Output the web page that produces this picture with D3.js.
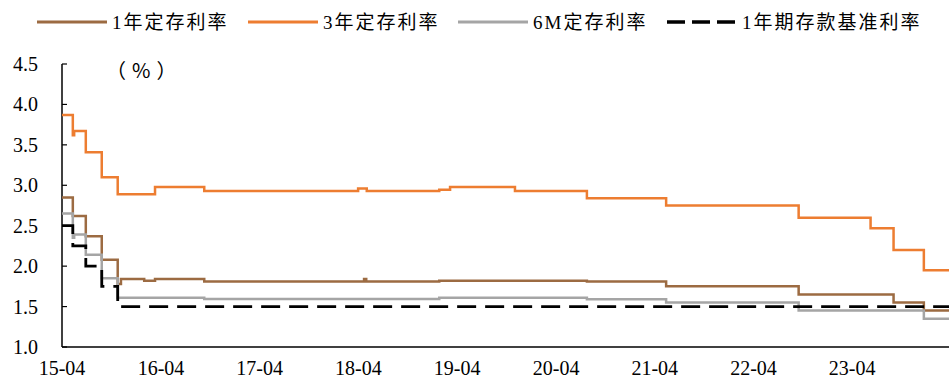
<!DOCTYPE html>
<html>
<head>
<meta charset="utf-8">
<script src="https://cdn.jsdelivr.net/npm/d3@7"></script>
<style>
  html, body { margin: 0; padding: 0; background: #fff; }
  svg { display: block; }
  .tick-label { font-family: "Liberation Serif", "Times New Roman", serif; font-size: 20px; fill: #000; }
  .legend-label { font-family: "Liberation Serif", "Noto Sans CJK SC", serif; font-size: 19px; fill: #000; letter-spacing: 2px; }
  .unit-label { font-family: "Noto Sans CJK SC", sans-serif; font-size: 20px; fill: #000; letter-spacing: 6px; }
</style>
</head>
<body>
<svg id="chart" width="949" height="380"></svg>
<script>
// 1年定存利率 (bank 1-year fixed deposit rate), change dates and values
const rate1yDates = ["2015-04-01","2015-05-11","2015-06-28","2015-08-26","2015-10-24","2015-11-05","2016-01-30","2016-03-10","2016-09-08","2018-04-22","2018-04-30","2019-01-25","2020-07-24","2021-05-13","2022-09-15","2023-09-01","2023-12-22","2024-03-24"];
const rate1yValues = [2.85, 2.62, 2.37, 2.08, 1.78, 1.84, 1.82, 1.84, 1.81, 1.84, 1.81, 1.82, 1.81, 1.75, 1.65, 1.55, 1.45, 1.45];

// 3年定存利率
const rate3yDates = ["2015-04-01","2015-05-11","2015-05-16","2015-06-28","2015-08-26","2015-10-24","2016-03-10","2016-09-08","2018-03-31","2018-05-02","2019-01-25","2019-03-06","2019-11-01","2020-07-24","2021-05-13","2022-09-15","2023-06-08","2023-09-01","2023-12-22","2024-03-24"];
const rate3yValues = [3.87, 3.62, 3.67, 3.41, 3.10, 2.89, 2.98, 2.93, 2.96, 2.93, 2.945, 2.98, 2.93, 2.84, 2.75, 2.60, 2.47, 2.20, 1.95, 1.95];

// 6M定存利率
const rate6mDates = ["2015-04-01","2015-05-11","2015-05-16","2015-06-28","2015-08-26","2015-10-24","2016-09-08","2019-01-25","2020-07-24","2021-05-13","2022-09-15","2023-12-22","2024-03-24"];
const rate6mValues = [2.65, 2.35, 2.39, 2.14, 1.85, 1.61, 1.595, 1.61, 1.59, 1.55, 1.45, 1.35, 1.35];

// 1年期存款基准利率 (benchmark 1-year deposit rate)
const benchmarkDates = ["2015-04-01","2015-05-11","2015-06-28","2015-08-26","2015-10-24","2024-03-24"];
const benchmarkValues = [2.50, 2.25, 2.00, 1.75, 1.50, 1.50];

// Axis ticks
const yTicks = [1.0, 1.5, 2.0, 2.5, 3.0, 3.5, 4.0, 4.5];
const xTickDates = ["2015-04-01","2016-04-01","2017-04-01","2018-04-01","2019-04-01","2020-04-01","2021-04-01","2022-04-01","2023-04-01"];

const seriesNames = ["1年定存利率", "3年定存利率", "6M定存利率", "1年期存款基准利率"];
const unitLabel = "（%）";

const parse = d3.timeParse("%Y-%m-%d");
const build = (dates, values) => dates.map((d, i) => ({ date: parse(d), value: values[i] }));

const series = [
  { name: seriesNames[0], data: build(rate1yDates, rate1yValues), color: "#9C6B42", width: 2.5, dash: null },
  { name: seriesNames[1], data: build(rate3yDates, rate3yValues), color: "#ED7D31", width: 2.5, dash: null },
  { name: seriesNames[2], data: build(rate6mDates, rate6mValues), color: "#A5A5A5", width: 2.5, dash: null },
  { name: seriesNames[3], data: build(benchmarkDates, benchmarkValues), color: "#000000", width: 2.8, dash: "19,9" }
];

const svg = d3.select("#chart");
const plot = { left: 62, right: 949, top: 64, bottom: 347 };

const x = d3.scaleTime()
  .domain([parse("2015-04-01"), parse("2024-03-24")])
  .range([plot.left, plot.right]);

const y = d3.scaleLinear()
  .domain([1.0, 4.5])
  .range([plot.bottom, plot.top]);

// Y axis: inward ticks, labels on the left
const yAxisG = svg.append("g").attr("transform", `translate(${plot.left},0)`);
yAxisG.append("line")
  .attr("x1", 0).attr("x2", 0)
  .attr("y1", plot.top).attr("y2", plot.bottom)
  .attr("stroke", "#000").attr("stroke-width", 1.5);
yAxisG.selectAll("line.ytick").data(yTicks).enter().append("line")
  .attr("class", "ytick")
  .attr("x1", 0).attr("x2", 5)
  .attr("y1", d => y(d)).attr("y2", d => y(d))
  .attr("stroke", "#000").attr("stroke-width", 1.2);
svg.append("g").selectAll("text").data(yTicks).enter().append("text")
  .attr("class", "tick-label")
  .attr("x", 38)
  .attr("y", d => y(d))
  .attr("dy", "0.35em")
  .attr("text-anchor", "end")
  .text(d3.format(".1f"));

// X axis: baseline and date labels
svg.append("line")
  .attr("x1", plot.left).attr("x2", plot.right)
  .attr("y1", plot.bottom).attr("y2", plot.bottom)
  .attr("stroke", "#000").attr("stroke-width", 1.5);
const fmtX = d3.timeFormat("%y-%m");
svg.append("g").selectAll("text").data(xTickDates.map(parse)).enter().append("text")
  .attr("class", "tick-label")
  .attr("x", d => x(d))
  .attr("y", 375)
  .attr("text-anchor", "middle")
  .text(fmtX);

// Unit label
svg.append("text")
  .attr("class", "unit-label")
  .attr("x", 106)
  .attr("y", 71)
  .attr("dy", "0.36em")
  .text(unitLabel);

// Step lines
const line = d3.line()
  .curve(d3.curveStepAfter)
  .x(d => x(d.date))
  .y(d => y(d.value));

svg.append("g").selectAll("path").data(series).enter().append("path")
  .attr("d", d => line(d.data))
  .attr("fill", "none")
  .attr("stroke", d => d.color)
  .attr("stroke-width", d => d.width)
  .attr("stroke-dasharray", d => d.dash)
  .attr("stroke-linejoin", "miter");

// Legend
const legendX = [37, 248, 458, 667];
const legendY = 22;
const legend = svg.append("g").selectAll("g").data(series).enter().append("g")
  .attr("transform", (d, i) => `translate(${legendX[i]},${legendY})`);
legend.append("line")
  .attr("x1", 0).attr("x2", 70)
  .attr("y1", 0).attr("y2", 0)
  .attr("stroke", d => d.color)
  .attr("stroke-width", d => d.width + 0.5)
  .attr("stroke-dasharray", d => d.dash ? "18,7" : null);
legend.append("text")
  .attr("class", "legend-label")
  .attr("x", 75)
  .attr("y", 0)
  .attr("dy", "0.36em")
  .text(d => d.name);
</script>
</body>
</html>
